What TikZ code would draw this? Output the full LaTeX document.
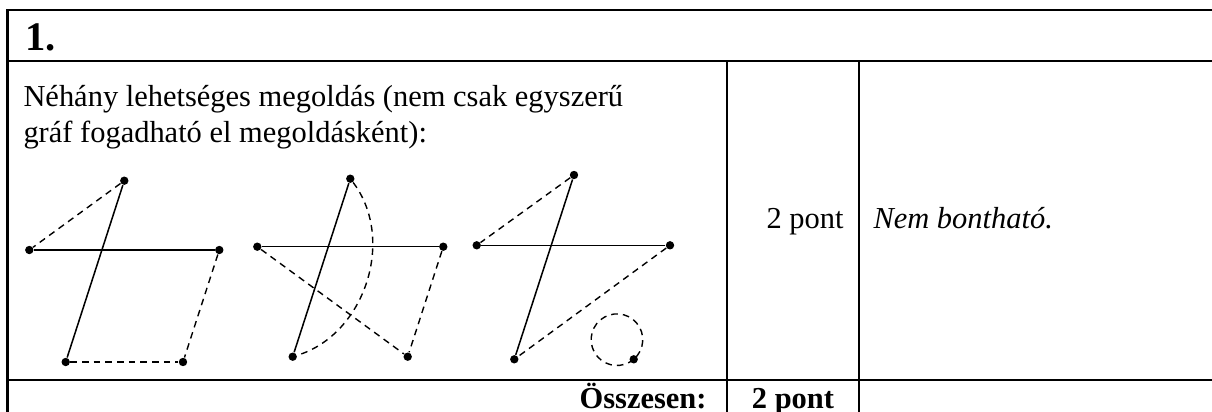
\documentclass[tikz,border=0pt]{standalone}
\usepackage{fontspec}
\setmainfont{Liberation Serif}
\usetikzlibrary{positioning,calc}

\begin{document}
\begin{tikzpicture}[x=0.394pt, y=-0.394pt,
  vonal/.style={line width=0.9pt},
  csucs/.style={circle, fill, inner sep=0pt, minimum size=3.3pt},
  el/.style={line width=0.6pt},
  elsz/.style={line width=0.55pt, dash pattern=on 2.6pt off 2pt},
  szoveg/.style={inner sep=0pt, font=\fontsize{12}{14}\selectfont}]
\useasboundingbox (0,0) rectangle (1212,412);

% tablazat
\draw[vonal] (1212,10) -- (7.5,10) -- (7.5,412);
\draw[vonal] (7.5,61) -- (1212,61);
\draw[vonal] (7.5,380) -- (1212,380);
\draw[vonal] (727,61) -- (727,412);
\draw[vonal] (859,61) -- (859,412);

\node[inner sep=0pt, anchor=base west, font=\fontsize{16}{19}\selectfont\bfseries] (cim) at (25,50) {1.};
\node[szoveg, anchor=base west] (sor1) at (23,106) {Néhány lehetséges megoldás (nem csak egyszerű};
\node[szoveg, anchor=base west] (sor2) at (23,142) {gráf fogadható el megoldásként):};
\node[szoveg, anchor=base east] (pont1) at (844,228) {2 pont};
\node[szoveg, anchor=base west] (megj) at (873,228) {\itshape Nem bontható.};
\node[szoveg, anchor=base east, font=\fontsize{12}{14}\selectfont\bfseries] (ossz) at (707,408) {Összesen:};
\node[szoveg, anchor=base, font=\fontsize{12}{14}\selectfont\bfseries] (pont2) at (793,408) {2 pont};

% elso graf
\node[csucs] (a1) at (124.3,180.7) {};
\node[csucs] (b1) at (29.3,250) {};
\node[csucs] (c1) at (219.3,250) {};
\node[csucs] (d1) at (65.7,362) {};
\node[csucs] (e1) at (183,362) {};
\draw[el] (a1) -- (d1);
\draw[el] (b1) -- (c1);
\draw[elsz] (a1) -- (b1);
\draw[elsz] (c1) -- (e1);
\draw[elsz] (d1) -- (e1);

% masodik graf
\node[csucs] (a2) at (350.3,178.7) {};
\node[csucs] (b2) at (257.3,246.7) {};
\node[csucs] (c2) at (443.3,246.7) {};
\node[csucs] (d2) at (292.7,356.7) {};
\node[csucs] (e2) at (407.7,356.7) {};
\draw[el] (a2) -- (d2);
\draw[el] (b2) -- (c2);
\draw[elsz] (b2) -- (e2);
\draw[elsz] (c2) -- (e2);
\draw[elsz] (a2) to[bend left=55] (d2);

% harmadik graf
\node[csucs] (a3) at (574,175) {};
\node[csucs] (b3) at (476.7,245.3) {};
\node[csucs] (c3) at (670,245.3) {};
\node[csucs] (d3) at (514.3,359.3) {};
\node[csucs] (e3) at (633.7,359.3) {};
\draw[el] (a3) -- (d3);
\draw[el] (b3) -- (c3);
\draw[elsz] (a3) -- (b3);
\draw[elsz] (c3) -- (d3);
\draw[elsz] (e3.center) arc[start angle=49.5, delta angle=360, radius=25.8];
\end{tikzpicture}
\end{document}
